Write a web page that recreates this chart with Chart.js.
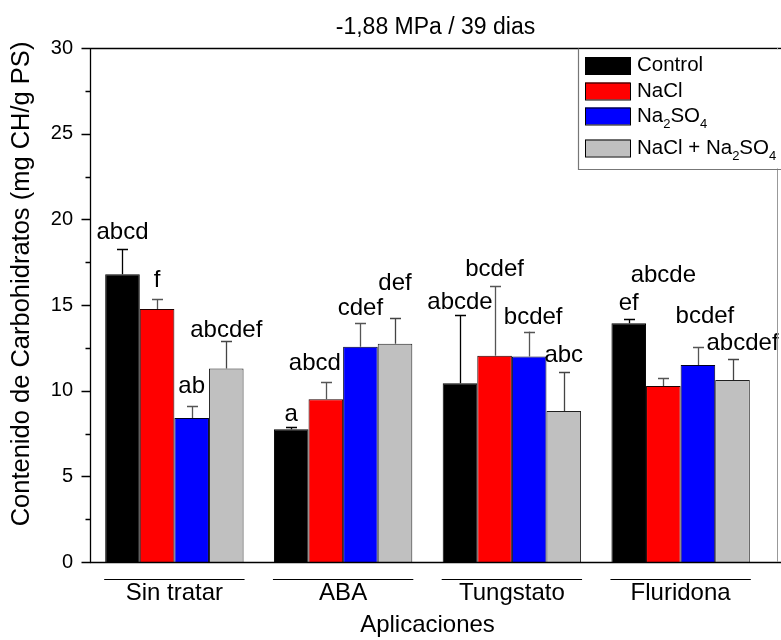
<!DOCTYPE html>
<html><head><meta charset="utf-8">
<script src="https://cdn.jsdelivr.net/npm/chart.js@4.4.0/dist/chart.umd.min.js"></script>
<style>html,body{margin:0;padding:0;background:#fff;} #wrap{width:781px;height:640px;}</style>
</head><body><div id="wrap"><canvas id="c" width="781" height="640"></canvas></div>
<script>
const categories = ['Sin tratar', 'ABA', 'Tungstato', 'Fluridona'];
const seriesNames = ['Control', 'NaCl', 'Na2SO4', 'NaCl + Na2SO4'];
const control = [16.8, 7.75, 10.43, 13.93];
const nacl = [14.77, 9.5, 12.04, 10.27];
const na2so4 = [8.4, 12.57, 11.99, 11.5];
const mix = [11.3, 12.74, 8.81, 10.62];
const controlErr = [1.45, 0.15, 3.99, 0.27];
const naclErr = [0.6, 1.0, 4.09, 0.47];
const na2so4Err = [0.7, 1.4, 1.46, 1.07];
const mixErr = [1.6, 1.52, 2.26, 1.25];
const controlLetters = ['abcd', 'a', 'abcde', 'ef'];
const naclLetters = ['f', 'abcd', 'bcdef', 'abcde'];
const na2so4Letters = ['ab', 'cdef', 'bcdef', 'bcdef'];
const mixLetters = ['abcdef', 'def', 'abc', 'abcdef'];
const controlLetterY = [19.26, 8.64, 15.13, 15.12];
const naclLetterY = [16.46, 11.61, 17.1, 16.75];
const na2so4LetterY = [10.27, 14.82, 14.3, 14.36];
const mixLetterY = [13.54, 16.28, 12.08, 12.78];
const yTicks = [0, 5, 10, 15, 20, 25, 30];
const chartTitle = '-1,88 MPa / 39 dias';
const yTitle = 'Contenido de Carbohidratos (mg CH/g PS)';
const xTitle = 'Aplicaciones';

const FONT = "'Liberation Sans', Arial, sans-serif";
const colors = ['#000000', '#ff0000', '#0000ff', '#c0c0c0'];
const borders = ['#000000', '#200000', '#000020', '#202020'];
const errColors = ['#000000', '#555555', '#555555', '#444444'];
const values = [control, nacl, na2so4, mix];
const errs = [controlErr, naclErr, na2so4Err, mixErr];
const letters = [controlLetters, naclLetters, na2so4Letters, mixLetters];
const letterYs = [controlLetterY, naclLetterY, na2so4LetterY, mixLetterY];
// small horizontal nudges (px) for some letter labels, as in the original figure
const letterShift = {'1,1': -11, '2,2': 4, '3,2': 7, '3,3': 10};

function drawChem(ctx, text, x, y, size) {
  let cx = x;
  for (let i = 0; i < text.length; i++) {
    const ch = text[i];
    const isSub = /[0-9]/.test(ch) && i > 0 && /[A-Za-z]/.test(text[i - 1]);
    if (isSub) {
      ctx.font = Math.round(size * 0.65) + 'px ' + FONT;
      ctx.fillText(ch, cx, y + size * 0.4);
    } else {
      ctx.font = size + 'px ' + FONT;
      ctx.fillText(ch, cx, y);
    }
    cx += ctx.measureText(ch).width;
  }
}

const framePlugin = {
  id: 'frame',
  afterDatasetsDraw(chart) {
    const ctx = chart.ctx;
    const ys = chart.scales.y;
    const area = chart.chartArea;
    ctx.save();
    // title, centred over the full plot frame
    ctx.fillStyle = '#000';
    ctx.font = '23px ' + FONT;
    ctx.textAlign = 'center';
    ctx.textBaseline = 'middle';
    ctx.fillText(chartTitle, 435.5, 28);
    // y axis title
    ctx.save();
    ctx.translate(22, 284);
    ctx.rotate(-Math.PI / 2);
    ctx.font = '25.5px ' + FONT;
    ctx.fillText(yTitle, 0, 0);
    ctx.restore();
    // error bars
    for (let d = 0; d < values.length; d++) {
      const meta = chart.getDatasetMeta(d);
      meta.data.forEach((bar, j) => {
        const top = ys.getPixelForValue(values[d][j] + errs[d][j]);
        ctx.strokeStyle = errColors[d];
        ctx.lineWidth = 1.3;
        ctx.beginPath();
        ctx.moveTo(Math.round(bar.x) + 0.5, bar.y);
        ctx.lineTo(Math.round(bar.x) + 0.5, top);
        ctx.moveTo(Math.round(bar.x) - 5, Math.round(top) + 0.5);
        ctx.lineTo(Math.round(bar.x) + 6, Math.round(top) + 0.5);
        ctx.stroke();
      });
    }
    // letters
    ctx.fillStyle = '#000';
    ctx.font = '24px ' + FONT;
    ctx.textAlign = 'center';
    ctx.textBaseline = 'middle';
    for (let d = 0; d < values.length; d++) {
      const meta = chart.getDatasetMeta(d);
      meta.data.forEach((bar, j) => {
        const dx = letterShift[j + ',' + d] || 0;
        ctx.fillText(letters[d][j], bar.x + dx, ys.getPixelForValue(letterYs[d][j]));
      });
    }
    // axes frame
    ctx.strokeStyle = '#000';
    ctx.lineWidth = 1.3;
    ctx.beginPath();
    ctx.moveTo(90.5, 48.5); ctx.lineTo(781, 48.5);
    ctx.moveTo(90.5, 48); ctx.lineTo(90.5, area.bottom + 0.5);
    ctx.moveTo(90, Math.round(area.bottom) + 0.5); ctx.lineTo(781, Math.round(area.bottom) + 0.5);
    ctx.stroke();
    ctx.strokeStyle = '#999';
    ctx.lineWidth = 1;
    ctx.beginPath();
    ctx.moveTo(777.5, 48); ctx.lineTo(777.5, area.bottom);
    ctx.stroke();
    // y ticks (major + minor)
    ctx.strokeStyle = '#000';
    ctx.lineWidth = 1.3;
    ctx.beginPath();
    for (let v = 0; v <= 30.001; v += 2.5) {
      const py = Math.round(ys.getPixelForValue(v)) + 0.5;
      const major = yTicks.includes(Math.round(v * 10) / 10);
      ctx.moveTo(90.5 - (major ? 9 : 5), py);
      ctx.lineTo(90.5, py);
    }
    ctx.stroke();
    // group underlines
    const m0 = chart.getDatasetMeta(0), m3 = chart.getDatasetMeta(3);
    ctx.lineWidth = 1;
    ctx.beginPath();
    for (let j = 0; j < categories.length; j++) {
      const l = m0.data[j].x - m0.data[j].width / 2;
      const r = m3.data[j].x + m3.data[j].width / 2;
      ctx.moveTo(l - 1, 579.5); ctx.lineTo(r + 1, 579.5);
    }
    ctx.stroke();
    // legend
    ctx.fillStyle = '#fff';
    ctx.fillRect(579, 49.5, 202, 119);
    ctx.strokeStyle = '#777';
    ctx.lineWidth = 1.2;
    ctx.beginPath();
    ctx.moveTo(578.5, 48.5); ctx.lineTo(578.5, 169.5); ctx.lineTo(781, 169.5);
    ctx.stroke();
    const rowY = [65.5, 91, 116, 148];
    ctx.textAlign = 'left';
    ctx.textBaseline = 'middle';
    for (let i = 0; i < seriesNames.length; i++) {
      ctx.fillStyle = colors[i];
      ctx.fillRect(585, rowY[i] - 8.5, 45, 17);
      ctx.strokeStyle = '#000';
      ctx.lineWidth = 1;
      ctx.strokeRect(585.5, rowY[i] - 8, 45, 17);
      ctx.fillStyle = '#000';
      drawChem(ctx, seriesNames[i], 637, rowY[i], 20.5);
    }
    ctx.restore();
  }
};

const datasets = seriesNames.map((n, i) => ({
  label: n,
  data: values[i],
  backgroundColor: colors[i],
  borderColor: borders[i],
  borderWidth: 1,
  barPercentage: 1.0,
  categoryPercentage: 0.82
}));

new Chart(document.getElementById('c').getContext('2d'), {
  type: 'bar',
  data: {labels: categories, datasets},
  options: {
    responsive: false,
    animation: false,
    devicePixelRatio: 1,
    layout: {padding: {left: 0, right: 16, top: 48, bottom: 0}},
    plugins: {
      legend: {display: false},
      tooltip: {enabled: false},
      title: {display: false}
    },
    scales: {
      x: {
        grid: {display: false, drawTicks: false},
        border: {display: false},
        ticks: {color: '#000', font: {family: FONT, size: 24}, padding: 17, maxRotation: 0, autoSkip: false},
        title: {display: true, text: xTitle, color: '#000', font: {family: FONT, size: 24}, padding: {top: 0, bottom: 0}},
        afterFit(s) { s.height = 78; }
      },
      y: {
        min: 0, max: 30,
        grid: {display: false, drawTicks: false},
        border: {display: false},
        ticks: {stepSize: 5, color: '#000', font: {family: FONT, size: 20}, padding: 17},
        title: {display: false},
        afterFit(s) { s.width = 90; }
      }
    }
  },
  plugins: [framePlugin]
});
</script>
</body></html>
